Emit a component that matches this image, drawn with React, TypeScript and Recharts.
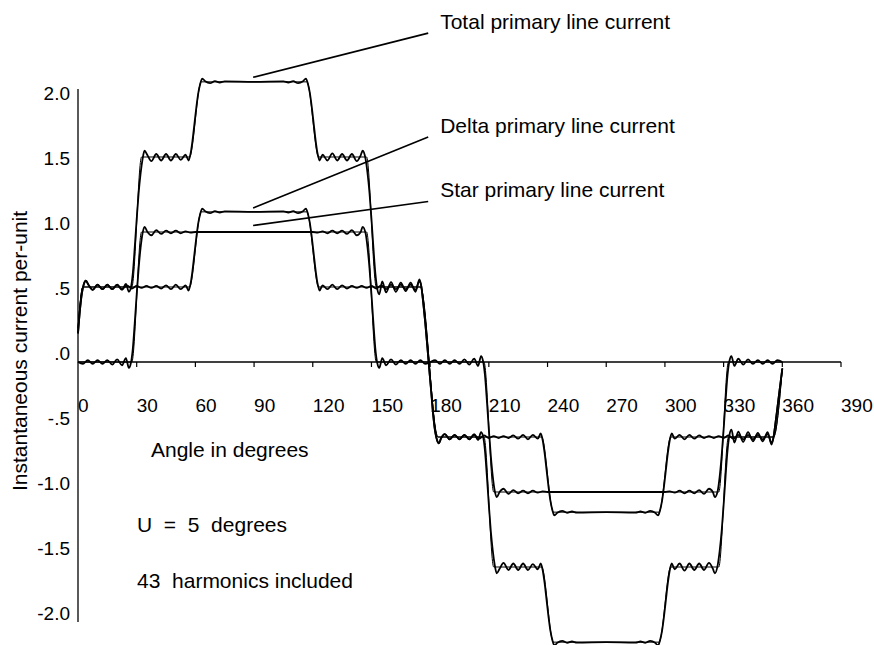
import React from 'react';
import { LineChart, Line, XAxis, YAxis, ReferenceLine, ReferenceDot } from 'recharts';

const FONT = '"Liberation Sans", Arial, Helvetica, sans-serif';

// Axis ticks
const xTicks = [0, 30, 60, 90, 120, 150, 180, 210, 240, 270, 300, 330, 360, 390];
const xTickLabels = ['0', '30', '60', '90', '120', '150', '180', '210', '240', '270', '300', '330', '360', '390'];
const yTicks = [2, 1.5, 1, 0.5, 0, -0.5, -1, -1.5, -2];
const yTickLabels = ['2.0', '1.5', '1.0', '.5', '.0', '-.5', '-1.0', '-1.5', '-2.0'];

// Star primary line current (43 harmonics) [angle, value]
const starPoints: [number, number][] = [
  [0, 0], [2.5, -0.015], [5, 0.015], [7.5, -0.015], [10, 0.015], [12.5, -0.015], [15, 0.015], [17.5, -0.02],
  [20, 0.02], [22.5, -0.025], [24.5, 0.03], [26, -0.045], [27, -0.01], [28, 0.1], [29, 0.3], [30, 0.52],
  [31, 0.72], [32, 0.88], [33, 0.99], [34, 1.04], [35.5, 1.0], [37.5, 0.975], [40, 1.015], [42.5, 0.985],
  [45, 1.01], [47.5, 0.99], [50, 1.01], [52.5, 0.99], [55, 1.005], [57.5, 0.995], [60, 1.0], [90, 1.0],
  [120, 1.0], [122.5, 0.995], [125, 1.005], [127.5, 0.99], [130, 1.01], [132.5, 0.99], [135, 1.01],
  [137.5, 0.985], [140, 1.015], [142.5, 0.975], [144.5, 1.0], [145.5, 1.04], [147, 0.99], [148, 0.88],
  [149, 0.72], [150, 0.52], [151, 0.3], [152, 0.1], [153, -0.01], [154, -0.045], [155.5, 0.03],
  [157.5, -0.025], [160, 0.02], [162.5, -0.02], [165, 0.015], [167.5, -0.015], [170, 0.015], [172.5, -0.015],
  [175, 0.015], [177.5, -0.015], [180, 0], [182.5, 0.015], [185, -0.015], [187.5, 0.015], [190, -0.015],
  [192.5, 0.015], [195, -0.015], [197.5, 0.02], [200, -0.02], [202.5, 0.025], [204.5, -0.03], [206, 0.045],
  [207, 0.01], [208, -0.1], [209, -0.3], [210, -0.52], [211, -0.72], [212, -0.88], [213, -0.99], [214, -1.04],
  [215.5, -1.0], [217.5, -0.975], [220, -1.015], [222.5, -0.985], [225, -1.01], [227.5, -0.99], [230, -1.01],
  [232.5, -0.99], [235, -1.005], [237.5, -0.995], [240, -1.0], [270, -1.0], [300, -1.0], [302.5, -0.995],
  [305, -1.005], [307.5, -0.99], [310, -1.01], [312.5, -0.99], [315, -1.01], [317.5, -0.985], [320, -1.015],
  [322.5, -0.975], [324.5, -1.0], [325.5, -1.04], [327, -0.99], [328, -0.88], [329, -0.72], [330, -0.52],
  [331, -0.3], [332, -0.1], [333, 0.01], [334, 0.045], [335.5, -0.03], [337.5, 0.025], [340, -0.02],
  [342.5, 0.02], [345, -0.015], [347.5, 0.015], [350, -0.015], [352.5, 0.015], [355, -0.015], [357.5, 0.015],
  [360, 0],
];

// Delta primary line current (43 harmonics)
const deltaPoints: [number, number][] = [
  [0, 0.22], [1, 0.4], [2, 0.53], [3, 0.6], [4, 0.625], [5.5, 0.59], [7.5, 0.555], [10, 0.595], [12.5, 0.56],
  [15, 0.595], [17.5, 0.56], [20, 0.595], [22.5, 0.56], [25, 0.59], [27.5, 0.565], [30, 0.585], [32.5, 0.57],
  [35, 0.585], [37.5, 0.57], [40, 0.585], [42.5, 0.565], [45, 0.59], [47.5, 0.56], [50, 0.595], [52.5, 0.56],
  [55, 0.59], [56.5, 0.55], [57.5, 0.6], [58.5, 0.7], [59.5, 0.83], [60.5, 0.96], [61.5, 1.07], [62.5, 1.14],
  [63.5, 1.18], [65, 1.16], [67.5, 1.145], [70, 1.16], [72.5, 1.15], [75, 1.158], [90, 1.155], [105, 1.158],
  [107.5, 1.15], [110, 1.16], [112.5, 1.145], [115, 1.16], [116.5, 1.18], [117.5, 1.14], [118.5, 1.07],
  [119.5, 0.96], [120.5, 0.83], [121.5, 0.7], [122.5, 0.6], [123.5, 0.55], [125, 0.59], [127.5, 0.56],
  [130, 0.595], [132.5, 0.56], [135, 0.59], [137.5, 0.565], [140, 0.585], [142.5, 0.57], [145, 0.585],
  [147.5, 0.57], [150, 0.585], [152.5, 0.565], [155, 0.59], [157.5, 0.56], [160, 0.595], [162.5, 0.56],
  [165, 0.595], [167.5, 0.56], [170, 0.595], [172.5, 0.555], [174.5, 0.62], [175.5, 0.58], [176.5, 0.45],
  [177.5, 0.3], [178.5, 0.13], [179.5, -0.05], [180.5, -0.22], [181.5, -0.4], [182.5, -0.53], [183.5, -0.6],
  [184.5, -0.625], [185.5, -0.59], [187.5, -0.555], [190, -0.595], [192.5, -0.56], [195, -0.595],
  [197.5, -0.56], [200, -0.595], [202.5, -0.56], [205, -0.59], [207.5, -0.565], [210, -0.585], [212.5, -0.57],
  [215, -0.585], [217.5, -0.57], [220, -0.585], [222.5, -0.565], [225, -0.59], [227.5, -0.56], [230, -0.595],
  [232.5, -0.56], [235, -0.59], [236.5, -0.55], [237.5, -0.6], [238.5, -0.7], [239.5, -0.83], [240.5, -0.96],
  [241.5, -1.07], [242.5, -1.14], [243.5, -1.18], [245, -1.16], [247.5, -1.145], [250, -1.16], [252.5, -1.15],
  [255, -1.158], [270, -1.155], [285, -1.158], [287.5, -1.15], [290, -1.16], [292.5, -1.145], [295, -1.16],
  [296.5, -1.18], [297.5, -1.14], [298.5, -1.07], [299.5, -0.96], [300.5, -0.83], [301.5, -0.7], [302.5, -0.6],
  [303.5, -0.55], [305, -0.59], [307.5, -0.56], [310, -0.595], [312.5, -0.56], [315, -0.59], [317.5, -0.565],
  [320, -0.585], [322.5, -0.57], [325, -0.585], [327.5, -0.57], [330, -0.585], [332.5, -0.565], [335, -0.59],
  [337.5, -0.56], [340, -0.595], [342.5, -0.56], [345, -0.595], [347.5, -0.56], [350, -0.595], [352.5, -0.555],
  [354.5, -0.62], [355.5, -0.58], [356.5, -0.47], [357.5, -0.35], [358.5, -0.23], [359.5, -0.11], [360, -0.05],
];

// Total primary line current (43 harmonics)
const totalPoints: [number, number][] = [
  [0, 0.22], [1, 0.4], [2, 0.53], [3, 0.6], [4, 0.625], [5.5, 0.59], [7.5, 0.555], [10, 0.595], [12.5, 0.56],
  [15, 0.595], [17.5, 0.56], [20, 0.595], [22.5, 0.555], [24.5, 0.6], [26, 0.54], [27, 0.57], [28, 0.68],
  [29, 0.88], [30, 1.1], [31, 1.3], [32, 1.45], [33, 1.56], [34, 1.625], [35.5, 1.59], [37.5, 1.545], [40, 1.6],
  [42.5, 1.55], [45, 1.6], [47.5, 1.55], [50, 1.6], [52.5, 1.555], [55, 1.595], [56.5, 1.55], [57.5, 1.6],
  [58.5, 1.7], [59.5, 1.83], [60.5, 1.96], [61.5, 2.07], [62.5, 2.14], [63.5, 2.18], [65, 2.16], [67.5, 2.145],
  [70, 2.16], [72.5, 2.15], [75, 2.158], [90, 2.155], [105, 2.158], [107.5, 2.15], [110, 2.16], [112.5, 2.145],
  [115, 2.16], [116.5, 2.18], [117.5, 2.14], [118.5, 2.07], [119.5, 1.96], [120.5, 1.83], [121.5, 1.7],
  [122.5, 1.6], [123.5, 1.55], [125, 1.595], [127.5, 1.55], [130, 1.605], [132.5, 1.55], [135, 1.6],
  [137.5, 1.55], [140, 1.6], [142.5, 1.545], [144.5, 1.59], [145.5, 1.625], [147, 1.56], [148, 1.45],
  [149, 1.3], [150, 1.1], [151, 0.88], [152, 0.68], [153, 0.56], [154, 0.52], [155.5, 0.62], [157.5, 0.535],
  [160, 0.615], [162.5, 0.54], [165, 0.61], [167.5, 0.545], [170, 0.61], [172.5, 0.54], [174.5, 0.635],
  [175.5, 0.58], [176.5, 0.45], [177.5, 0.3], [178.5, 0.13], [179.5, -0.05], [180.5, -0.22], [181.5, -0.4],
  [182.5, -0.53], [183.5, -0.6], [184.5, -0.625], [185.5, -0.59], [187.5, -0.555], [190, -0.595],
  [192.5, -0.56], [195, -0.595], [197.5, -0.56], [200, -0.595], [202.5, -0.555], [204.5, -0.6], [206, -0.54],
  [207, -0.57], [208, -0.68], [209, -0.88], [210, -1.1], [211, -1.3], [212, -1.45], [213, -1.56],
  [214, -1.625], [215.5, -1.59], [217.5, -1.545], [220, -1.6], [222.5, -1.55], [225, -1.6], [227.5, -1.55],
  [230, -1.6], [232.5, -1.555], [235, -1.595], [236.5, -1.55], [237.5, -1.6], [238.5, -1.7], [239.5, -1.83],
  [240.5, -1.96], [241.5, -2.07], [242.5, -2.14], [243.5, -2.18], [245, -2.16], [247.5, -2.145], [250, -2.16],
  [252.5, -2.15], [255, -2.158], [270, -2.155], [285, -2.158], [287.5, -2.15], [290, -2.16], [292.5, -2.145],
  [295, -2.16], [296.5, -2.18], [297.5, -2.14], [298.5, -2.07], [299.5, -1.96], [300.5, -1.83], [301.5, -1.7],
  [302.5, -1.6], [303.5, -1.55], [305, -1.595], [307.5, -1.55], [310, -1.605], [312.5, -1.55], [315, -1.6],
  [317.5, -1.55], [320, -1.6], [322.5, -1.545], [324.5, -1.59], [325.5, -1.625], [327, -1.56], [328, -1.45],
  [329, -1.3], [330, -1.1], [331, -0.88], [332, -0.68], [333, -0.56], [334, -0.52], [335.5, -0.62],
  [337.5, -0.535], [340, -0.615], [342.5, -0.54], [345, -0.61], [347.5, -0.545], [350, -0.61], [352.5, -0.54],
  [354.5, -0.635], [355.5, -0.58], [356.5, -0.47], [357.5, -0.35], [358.5, -0.23], [359.5, -0.11], [360, -0.05],
];

// Ideal (trapezoidal) waveforms drawn thinly underneath
const starIdeal: [number, number][] = [
  [0, 0], [27.5, 0], [32.5, 1], [147.5, 1], [152.5, 0], [207.5, 0], [212.5, -1], [327.5, -1], [332.5, 0], [360, 0],
];
const deltaIdeal: [number, number][] = [
  [0, 0.26], [2.5, 0.577], [57, 0.577], [63, 1.155], [117, 1.155], [123, 0.577], [175, 0.577], [184, -0.577],
  [237, -0.577], [243, -1.155], [297, -1.155], [303, -0.577], [355.5, -0.577], [360, -0.05],
];
const totalIdeal: [number, number][] = [
  [0, 0.26], [2.5, 0.577], [27.5, 0.577], [32.5, 1.577], [57, 1.577], [63, 2.155], [117, 2.155], [123, 1.577],
  [147.5, 1.577], [152.5, 0.577], [175, 0.577], [184, -0.577], [207.5, -0.577], [212.5, -1.577], [237, -1.577],
  [243, -2.155], [297, -2.155], [303, -1.577], [327.5, -1.577], [332.5, -0.577], [355.5, -0.577], [360, -0.05],
];

// Annotation leader lines: [angle, value] from curve to label
const leaderNames = ['Total primary line current', 'Delta primary line current', 'Star primary line current'];
const leaderFrom: [number, number][] = [[89.5, 2.19], [89.5, 1.185], [89.5, 1.05]];
const leaderTo: [number, number][] = [[179, 2.53], [179, 1.73], [179, 1.235]];

const notes = ['Angle in degrees', 'U  =  5  degrees', '43  harmonics included'];

const toRows = (pts: [number, number][]) => pts.map(([x, y]) => ({ x, y }));

const YTick = (props: any) => {
  const { x, y, payload } = props;
  const i = yTicks.indexOf(payload.value);
  return (
    <text x={x} y={y - 2} textAnchor="end" fontSize={19} fontFamily={FONT} fill="#000">
      {i >= 0 ? yTickLabels[i] : ''}
    </text>
  );
};

const series = [
  { id: 'totalIdeal', pts: totalIdeal, w: 1 },
  { id: 'deltaIdeal', pts: deltaIdeal, w: 1 },
  { id: 'starIdeal', pts: starIdeal, w: 1 },
  { id: 'total', pts: totalPoints, w: 1.8 },
  { id: 'delta', pts: deltaPoints, w: 1.8 },
  { id: 'star', pts: starPoints, w: 1.8 },
];

export default function App() {
  return (
    <div
      style={{
        position: 'fixed',
        left: 0,
        top: 0,
        width: 874,
        height: 645,
        overflow: 'hidden',
        background: '#fff',
      }}
    >
      <LineChart width={874} height={653} margin={{ top: 76, right: 33, bottom: 5, left: 18 }}>
        <XAxis type="number" dataKey="x" domain={[0, 390]} ticks={xTicks} hide />
        <YAxis
          type="number"
          domain={[-2.2, 2.2]}
          ticks={yTicks}
          width={60}
          axisLine={false}
          tickLine={false}
          tickSize={6}
          tickMargin={2}
          tick={<YTick />}
          interval={0}
        />
        <ReferenceLine y={0} stroke="#000" strokeWidth={1.3} />
        <ReferenceLine segment={[{ x: 0, y: -2 }, { x: 0, y: 2.1 }]} stroke="#000" strokeWidth={1.3} />
        {xTicks.map((t, i) => (
          <ReferenceDot
            key={'xt' + t}
            x={t}
            y={0}
            r={1}
            ifOverflow="visible"
            shape={(p: any) => (
              <g>
                {t !== 0 && <line x1={p.cx} y1={p.cy} x2={p.cx} y2={p.cy + 5} stroke="#000" strokeWidth={1.2} />}
                <text x={p.cx} y={p.cy + 50} fontSize={19} fontFamily={FONT} fill="#000">
                  {xTickLabels[i]}
                </text>
              </g>
            )}
          />
        ))}
        {leaderNames.map((name, i) => (
          <ReferenceLine
            key={'ld' + i}
            segment={[
              { x: leaderFrom[i][0], y: leaderFrom[i][1] },
              { x: leaderTo[i][0], y: leaderTo[i][1] },
            ]}
            stroke="#000"
            strokeWidth={1.6}
            ifOverflow="visible"
          />
        ))}
        {leaderNames.map((name, i) => (
          <ReferenceDot
            key={'lt' + i}
            x={leaderTo[i][0]}
            y={leaderTo[i][1]}
            r={1}
            ifOverflow="visible"
            shape={(p: any) => (
              <text x={p.cx + 12} y={p.cy - 4} fontSize={21} fontFamily={FONT} fill="#000">
                {name}
              </text>
            )}
          />
        ))}
        {series.map((s) => (
          <Line
            key={s.id}
            data={toRows(s.pts)}
            dataKey="y"
            type="monotone"
            dot={false}
            activeDot={false}
            stroke="#000"
            strokeWidth={s.w}
            isAnimationActive={false}
          />
        ))}
      </LineChart>
      <svg width={874} height={645} style={{ position: 'absolute', left: 0, top: 0, pointerEvents: 'none' }}>
        <text
          x={27}
          y={351}
          transform="rotate(-90 27 351)"
          textAnchor="middle"
          fontSize={21}
          fontFamily={FONT}
          fill="#000"
        >
          Instantaneous current per-unit
        </text>
        <text x={151} y={457} fontSize={21} fontFamily={FONT} fill="#000" style={{ whiteSpace: 'pre' }}>
          {notes[0]}
        </text>
        <text x={137} y={532} fontSize={21} fontFamily={FONT} fill="#000" style={{ whiteSpace: 'pre' }}>
          {notes[1]}
        </text>
        <text x={137} y={588} fontSize={21} fontFamily={FONT} fill="#000" style={{ whiteSpace: 'pre' }}>
          {notes[2]}
        </text>
      </svg>
    </div>
  );
}
